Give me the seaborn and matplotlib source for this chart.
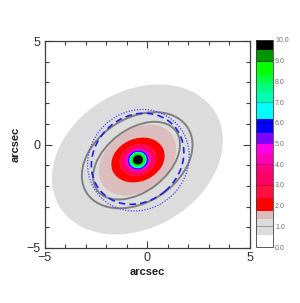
import numpy as np
import matplotlib
matplotlib.use("Agg")
import matplotlib.pyplot as plt
import seaborn as sns
from matplotlib.patches import Ellipse
from matplotlib.colors import ListedColormap, BoundaryNorm
from matplotlib.ticker import MultipleLocator, FixedLocator

sns.set_theme(style="ticks")
plt.rcParams['font.family'] = ['Liberation Sans', 'DejaVu Sans']
plt.rcParams['axes.unicode_minus'] = True

# colour scale (band boundaries and colours)
band_bounds = [0.0, 0.6, 1.35, 1.75, 2.35, 3.0, 3.6, 4.0, 4.5, 5.0, 5.5, 6.2,
               7.0, 7.5, 7.9, 8.3, 9.0, 9.5, 10.0]
band_colors = ['#ffffff', '#dcdcdc', '#dcbdbd', '#ff0000', '#ff1040', '#ff0064',
               '#ff0080', '#ff00b4', '#ff00e6', '#8000ff', '#0000ff', '#00ffff',
               '#00ffb4', '#00ff80', '#00ff40', '#00ff00', '#009600', '#000000']
cbar_ticks = [0, 1, 2, 3, 4, 5, 6, 7, 8, 9, 10]
cbar_lines = [1.0, 3.0, 4.0, 6.0, 7.0, 9.0]
cbar_line_colors = ['#a0a0a0', '#c00030', '#c00070', '#0000a0', '#00b0a0', '#006000']

# filled isophote layers: level, centre, semi-axes, position angle (deg)
layer_level = [1.0, 1.5, 2.0, 2.7, 3.3, 3.8, 4.2, 4.7, 5.2, 5.8, 6.5, 8.5, 9.7]
layer_cx = [-0.48, -0.47, -0.45, -0.45, -0.45, -0.45, -0.45, -0.45, -0.45, -0.45, -0.45, -0.45, -0.45]
layer_cy = [-0.72, -0.75, -0.75, -0.75, -0.75, -0.75, -0.75, -0.75, -0.75, -0.75, -0.75, -0.74, -0.74]
layer_a = [4.42, 2.07, 1.34, 0.94, 0.81, 0.71, 0.63, 0.56, 0.50, 0.47, 0.43, 0.37, 0.25]
layer_b = [3.30, 1.48, 1.03, 0.76, 0.67, 0.60, 0.55, 0.50, 0.46, 0.43, 0.40, 0.34, 0.23]
layer_pa = [30.5, 37, 23, 22, 20, 20, 20, 20, 20, 20, 20, 20, 20]

# outline contours
line_cx = [-0.49, -0.52, -0.47, -0.43]
line_cy = [-0.76, -0.78, -0.69, -0.76]
line_a = [2.92, 2.39, 2.38, 2.56]
line_b = [2.03, 1.51, 2.06, 2.36]
line_pa = [32.5, 37, 40.5, 42]
line_color = ['#808080', '#808080', '#2020e6', '#4a4aff']
line_style = ['-', '-', (0, (4, 2.5)), (0, (1, 1.2))]
line_width = [1.4, 1.4, 1.2, 0.9]

cmap = ListedColormap(band_colors)
norm = BoundaryNorm(band_bounds, cmap.N)

fig = plt.figure(figsize=(3.0, 3.03), dpi=100)
ax = fig.add_axes([44.5 / 300, 1 - 248 / 303, 205.5 / 300, 207 / 303])
ax.set_facecolor('white')

for lv, cx, cy, a, b, pa in zip(layer_level, layer_cx, layer_cy, layer_a, layer_b, layer_pa):
    ax.add_patch(Ellipse((cx, cy), 2 * a, 2 * b, angle=pa,
                         facecolor=cmap(norm(lv)), edgecolor='none', zorder=1))

for cx, cy, a, b, pa, c, ls, lw in zip(line_cx, line_cy, line_a, line_b, line_pa,
                                       line_color, line_style, line_width):
    ax.add_patch(Ellipse((cx, cy), 2 * a, 2 * b, angle=pa, fill=False,
                         edgecolor=c, linestyle=ls, linewidth=lw, zorder=2))

ax.set_xlim(-5, 5)
ax.set_ylim(-5, 5)
ax.xaxis.set_major_locator(FixedLocator([-5, 0, 5]))
ax.yaxis.set_major_locator(FixedLocator([-5, 0, 5]))
ax.xaxis.set_minor_locator(MultipleLocator(1))
ax.yaxis.set_minor_locator(MultipleLocator(1))
ax.tick_params(which='both', direction='in', top=True, right=True,
               color='#404040', width=0.8)
ax.tick_params(which='major', length=5, labelsize=9, pad=3, labelcolor='#303030')
ax.tick_params(which='minor', length=3)
for s in ax.spines.values():
    s.set_color('#404040')
    s.set_linewidth(0.9)
ax.set_xlabel('arcsec', fontsize=8, fontweight='bold', labelpad=2, color='#202020')
ax.set_ylabel('arcsec', fontsize=8, fontweight='bold', labelpad=4, color='#202020')

cax = fig.add_axes([256 / 300, 1 - 247 / 303, 17 / 300, 207 / 303])
cb = matplotlib.colorbar.ColorbarBase(cax, cmap=cmap, norm=norm,
                                      boundaries=band_bounds, ticks=cbar_ticks,
                                      spacing='proportional')
cb.ax.set_yticklabels([f'{t:.1f}' for t in cbar_ticks])
cb.ax.tick_params(which='both', length=0, labelsize=5, pad=1.5, labelcolor='#707070')
cb.ax.minorticks_off()
cb.outline.set_edgecolor('#404040')
cb.outline.set_linewidth(0.6)
for v, c in zip(cbar_lines, cbar_line_colors):
    cb.ax.axhline(v, color=c, linewidth=0.8)

fig.savefig('out.png', dpi=100)
